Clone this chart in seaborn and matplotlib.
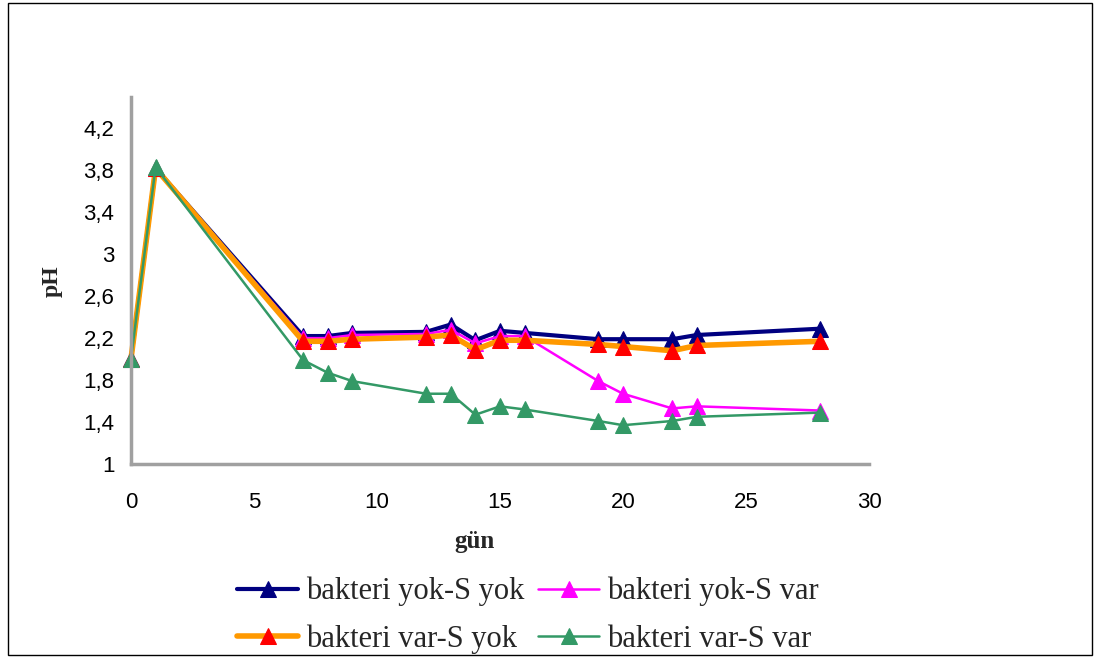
import matplotlib
matplotlib.use("Agg")
import matplotlib.pyplot as plt
import seaborn as sns
import pandas as pd
from matplotlib.patches import Rectangle

gun = [0, 1, 7, 8, 9, 12, 13, 14, 15, 16, 19, 20, 22, 23, 28]
yok_yok = [2.0, 3.82, 2.22, 2.22, 2.25, 2.26, 2.33, 2.18, 2.27, 2.25, 2.19, 2.19, 2.19, 2.23, 2.29]
yok_var = [2.0, 3.82, 2.20, 2.20, 2.23, 2.24, 2.28, 2.15, 2.22, 2.22, 1.79, 1.67, 1.53, 1.55, 1.51]
var_yok = [2.0, 3.82, 2.17, 2.17, 2.19, 2.21, 2.23, 2.09, 2.18, 2.18, 2.14, 2.12, 2.08, 2.13, 2.17]
var_var = [2.0, 3.83, 1.99, 1.87, 1.79, 1.67, 1.67, 1.47, 1.55, 1.52, 1.41, 1.37, 1.41, 1.45, 1.49]

names = ["bakteri yok-S yok", "bakteri yok-S var", "bakteri var-S yok", "bakteri var-S var"]
series = [yok_yok, yok_var, var_yok, var_var]
line_colors = ["#000080", "#FF00FF", "#FF9900", "#339966"]
marker_colors = ["#000080", "#FF00FF", "#FF0000", "#339966"]
widths = [3.0, 1.8, 4.0, 1.8]

yticks = [1, 1.4, 1.8, 2.2, 2.6, 3, 3.4, 3.8, 4.2]
ytick_labels = ["1", "1,4", "1,8", "2,2", "2,6", "3", "3,4", "3,8", "4,2"]
xticks = [0, 5, 10, 15, 20, 25, 30]

sns.set_style("white")
plt.rcParams['font.family'] = ['Liberation Sans', 'DejaVu Sans']

fig = plt.figure(figsize=(10.95, 6.59), dpi=100)
ax = fig.add_axes([0.1196, 0.2959, 0.674, 0.557])

for name, vals, lc, mc, lw in zip(names, series, line_colors, marker_colors, widths):
    df = pd.DataFrame({"gun": gun, "pH": vals})
    sns.lineplot(data=df, x="gun", y="pH", ax=ax, color=lc, linewidth=lw,
                 marker="^", markersize=12, markerfacecolor=mc, markeredgecolor=mc,
                 label=name, legend=False)
for ln in ax.lines:
    ln.set_clip_on(False)

ax.set_xlim(0, 30)
ax.set_ylim(1, 4.5)
ax.set_xticks(xticks)
ax.set_yticks(yticks)
ax.set_yticklabels(ytick_labels)
ax.tick_params(axis="both", labelsize=16, colors="#A0A0A0", labelcolor="black",
               length=5, width=2.5, direction="out")
ax.tick_params(axis="x", pad=15)
ax.tick_params(axis="y", pad=7)
for s in ["top", "right"]:
    ax.spines[s].set_visible(False)
for s in ["left", "bottom"]:
    ax.spines[s].set_color("#A0A0A0")
    ax.spines[s].set_linewidth(2.5)
ax.grid(False)

ax.set_xlabel("gün", fontfamily="Liberation Serif", fontweight="bold", fontsize=18)
ax.xaxis.label.set_va("center")
ax.xaxis.set_label_coords((475 - 131) / 738, (464 - 541) / 367)
ax.set_ylabel("pH", fontfamily="Liberation Serif", fontweight="bold", fontsize=17)
ax.yaxis.label.set_va("center")
ax.yaxis.set_label_coords((52 - 131) / 738, (464 - 281) / 367)

handles, labels = ax.get_legend_handles_labels()
order = [0, 2, 1, 3]
fig.legend([handles[i] for i in order], [labels[i] for i in order],
           loc="center", bbox_to_anchor=(0.482, 0.066), ncol=2,
           frameon=False, prop={"family": "Liberation Serif", "size": 22},
           handlelength=2.0, columnspacing=0.45, labelspacing=0.6, handletextpad=0.25)

fig.add_artist(Rectangle((0.007, 0.006), 0.99, 0.99, transform=fig.transFigure,
                         fill=False, edgecolor="black", linewidth=1))

fig.savefig("out.png", dpi=100)
